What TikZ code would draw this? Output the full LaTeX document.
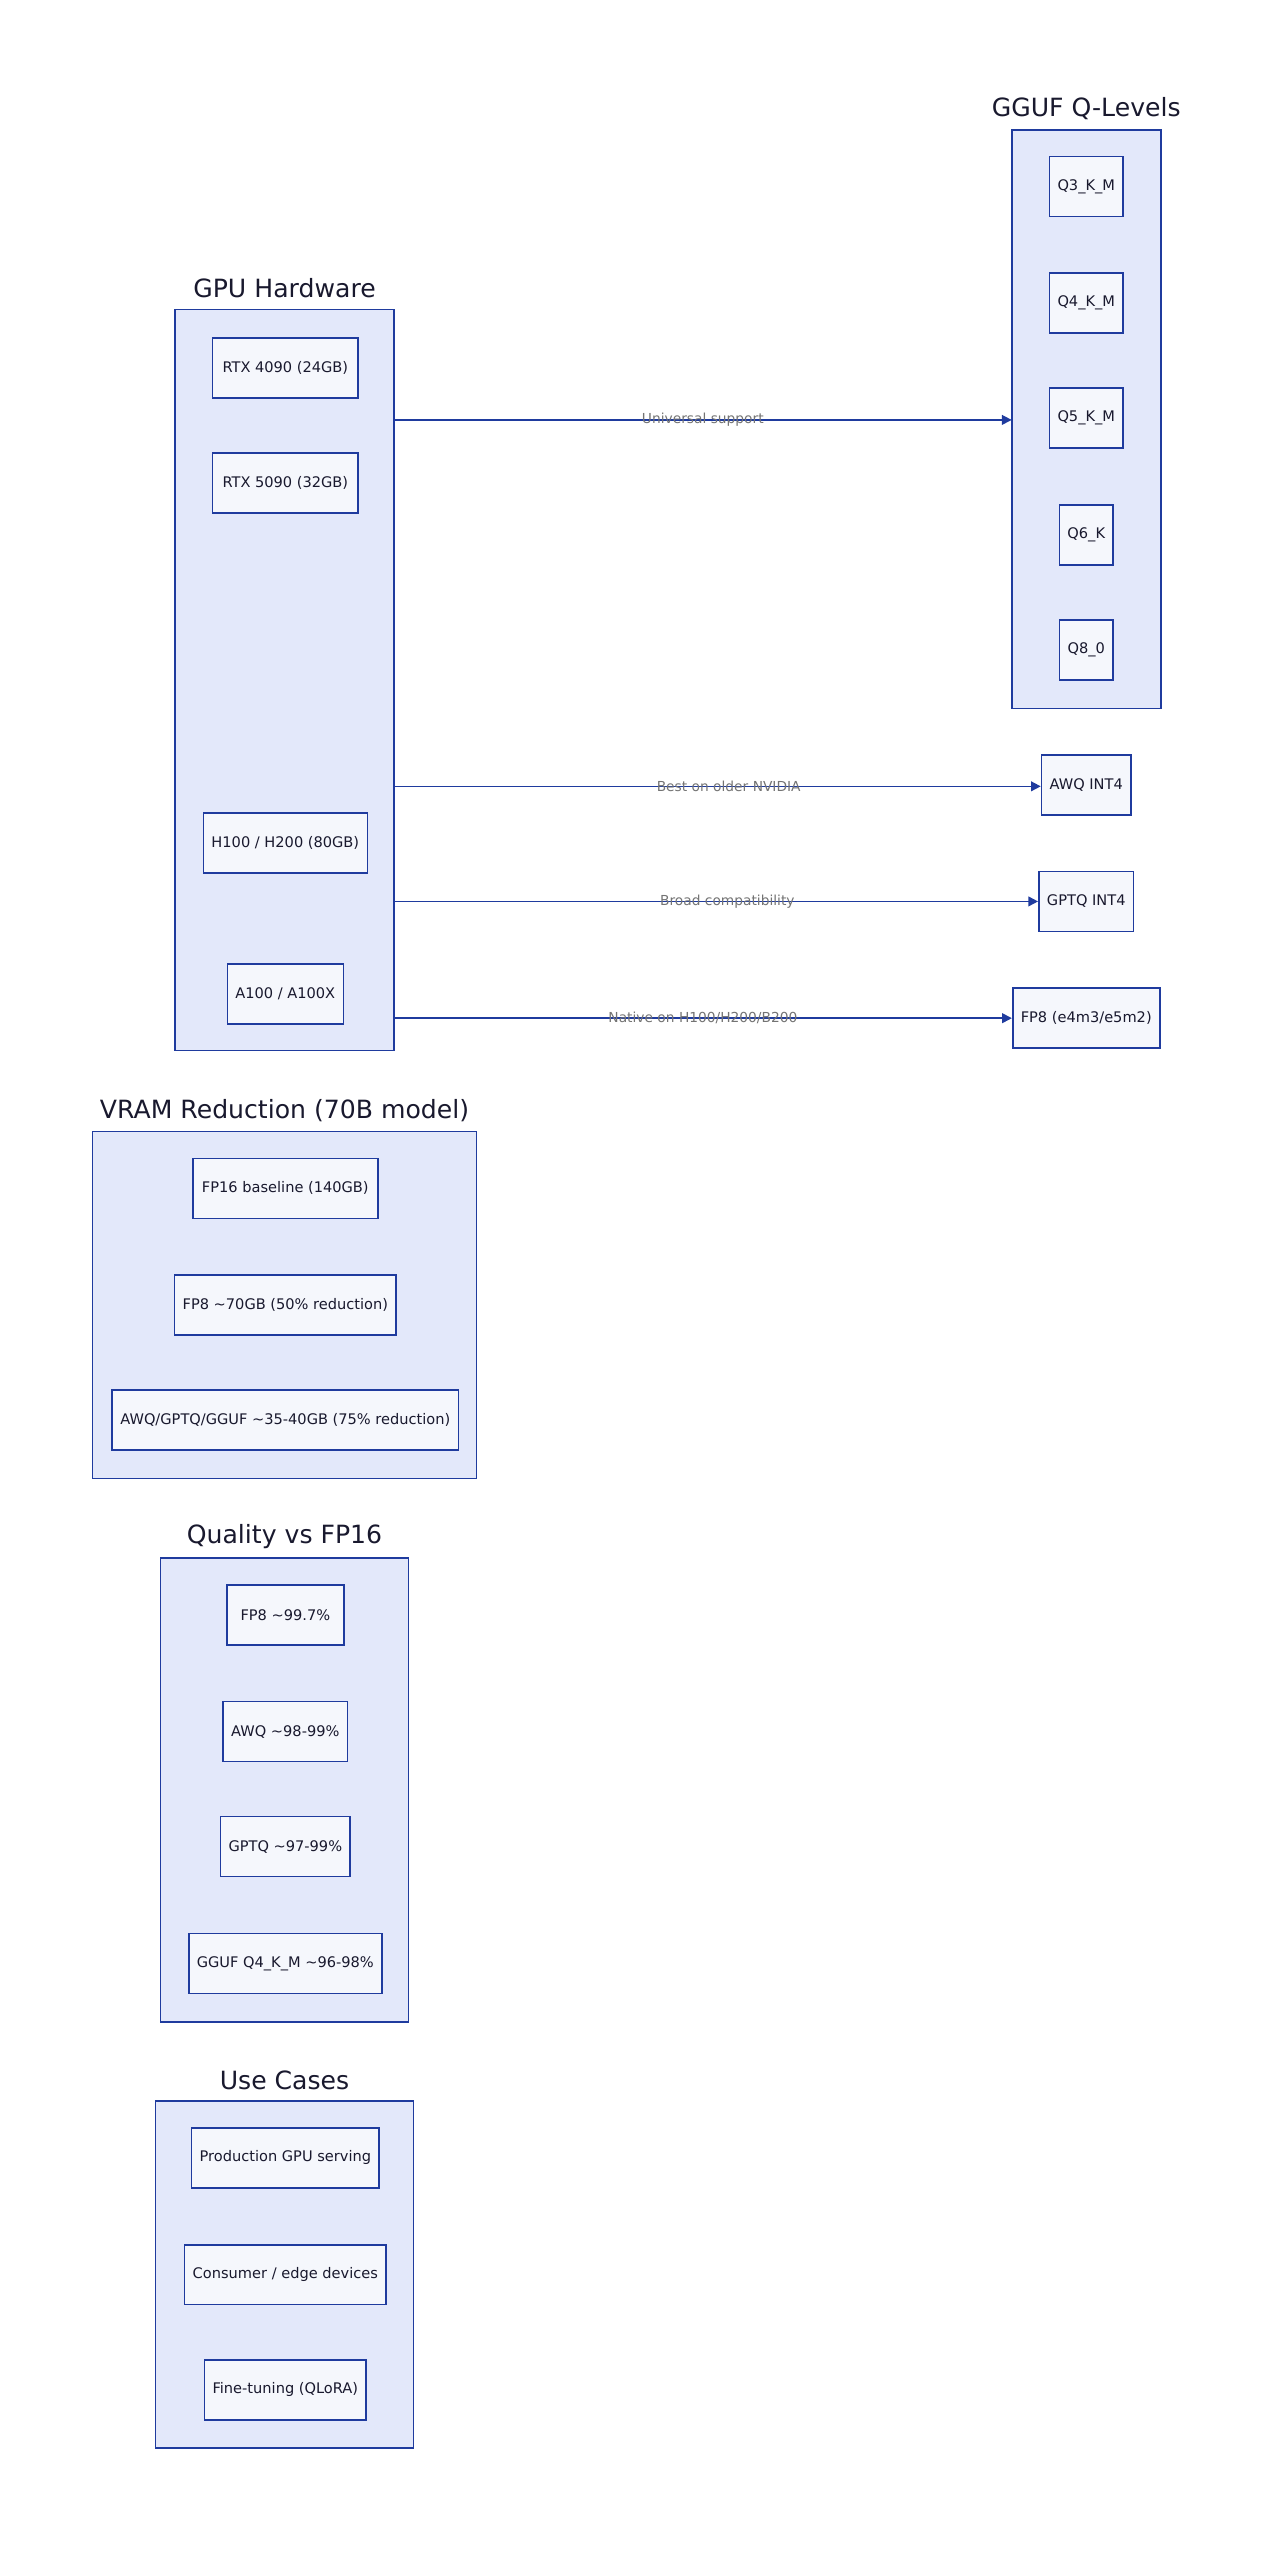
\documentclass[tikz,border=0pt]{standalone}
\usepackage{fontspec}
\setmainfont{DejaVu Sans}
\usetikzlibrary{arrows.meta,positioning}
\definecolor{LineClr}{rgb}{0.12,0.23,0.62}
\definecolor{GroupClr}{rgb}{0.89,0.91,0.98}
\definecolor{BoxClr}{rgb}{0.96,0.97,0.99}
\definecolor{TxtClr}{rgb}{0.10,0.10,0.18}
\tikzset{
  group/.style={draw=LineClr,fill=GroupClr,line width=1pt},
  grouptitle/.style={font=\fontsize{15.5}{18}\selectfont,text=TxtClr},
  item/.style={draw=LineClr,fill=BoxClr,line width=1pt,minimum height=37pt,
    inner xsep=5pt,font=\fontsize{9}{11}\selectfont,text=TxtClr},
  link/.style={draw=LineClr,line width=1pt,-{Triangle[length=6pt,width=6pt]}},
  linklabel/.style={font=\fontsize{8.5}{10}\selectfont,text=black!55}
}
\begin{document}
\begin{tikzpicture}[x=1pt,y=-1pt]
\useasboundingbox (0,0) rectangle (780,1579);

% groups
\draw[group] (108,191) rectangle (243,648);
\node[grouptitle] at (175.5,178) {GPU Hardware};
\draw[group] (624,80) rectangle (716,437);
\node[grouptitle] at (670,67) {GGUF Q-Levels};
\coordinate (ggufin) at (624,259);
\draw[group] (57,698) rectangle (294,912);
\node[grouptitle] at (175.5,685) {VRAM Reduction (70B model)};
\draw[group] (99,961) rectangle (252,1247);
\node[grouptitle] at (175.5,948) {Quality vs FP16};
\draw[group] (96,1296) rectangle (255,1510);
\node[grouptitle] at (175.5,1283) {Use Cases};

% hardware
\node[item,minimum width=90pt] (rtx4090) at (176,227) {RTX 4090 (24GB)};
\node[item,minimum width=90pt] (rtx5090) at (176,298) {RTX 5090 (32GB)};
\node[item] (h100) at (176,520) {H100 / H200 (80GB)};
\node[item] (a100) at (176,613) {A100 / A100X};

% gguf levels
\node[item] (q3km) at (670,115) {Q3\_K\_M};
\node[item] (q4km) at (670,187) {Q4\_K\_M};
\node[item] (q5km) at (670,258) {Q5\_K\_M};
\node[item] (q6k) at (670,330) {Q6\_K};
\node[item] (q80) at (670,401) {Q8\_0};

% formats
\node[item] (awq) at (670,484) {AWQ INT4};
\node[item] (gptq) at (670,556) {GPTQ INT4};
\node[item] (fpeight) at (670,628) {FP8 (e4m3/e5m2)};

\coordinate (hwa) at (243,259);
\coordinate (hwb) at (243,485);
\coordinate (hwc) at (243,556);
\coordinate (hwd) at (243,628);
\draw[link] (hwa) -- node[linklabel]{Universal support} (ggufin);
\draw[link] (hwb) -- node[linklabel,xshift=7pt]{Best on older NVIDIA} (awq.west|-hwb);
\draw[link] (hwc) -- node[linklabel,xshift=7pt]{Broad compatibility} (gptq.west|-hwc);
\draw[link] (hwd) -- node[linklabel]{Native on H100/H200/B200} (fpeight.west|-hwd);

% vram
\node[item,minimum width=114pt] (fp16) at (176,733) {FP16 baseline (140GB)};
\node[item] (fp8vram) at (176,805) {FP8 \textasciitilde70GB (50\% reduction)};
\node[item] (int4vram) at (176,876) {AWQ/GPTQ/GGUF \textasciitilde35-40GB (75\% reduction)};

% quality
\node[item,minimum width=72pt] (fp8q) at (176,996) {FP8 \textasciitilde99.7\%};
\node[item] (awqq) at (176,1068) {AWQ \textasciitilde98-99\%};
\node[item] (gptqq) at (176,1139) {GPTQ \textasciitilde97-99\%};
\node[item] (ggufq) at (176,1211) {GGUF Q4\_K\_M \textasciitilde96-98\%};

% use cases
\node[item] (prod) at (176,1331) {Production GPU serving};
\node[item] (edge) at (176,1403) {Consumer / edge devices};
\node[item] (tune) at (176,1474) {Fine-tuning (QLoRA)};
\end{tikzpicture}
\end{document}
